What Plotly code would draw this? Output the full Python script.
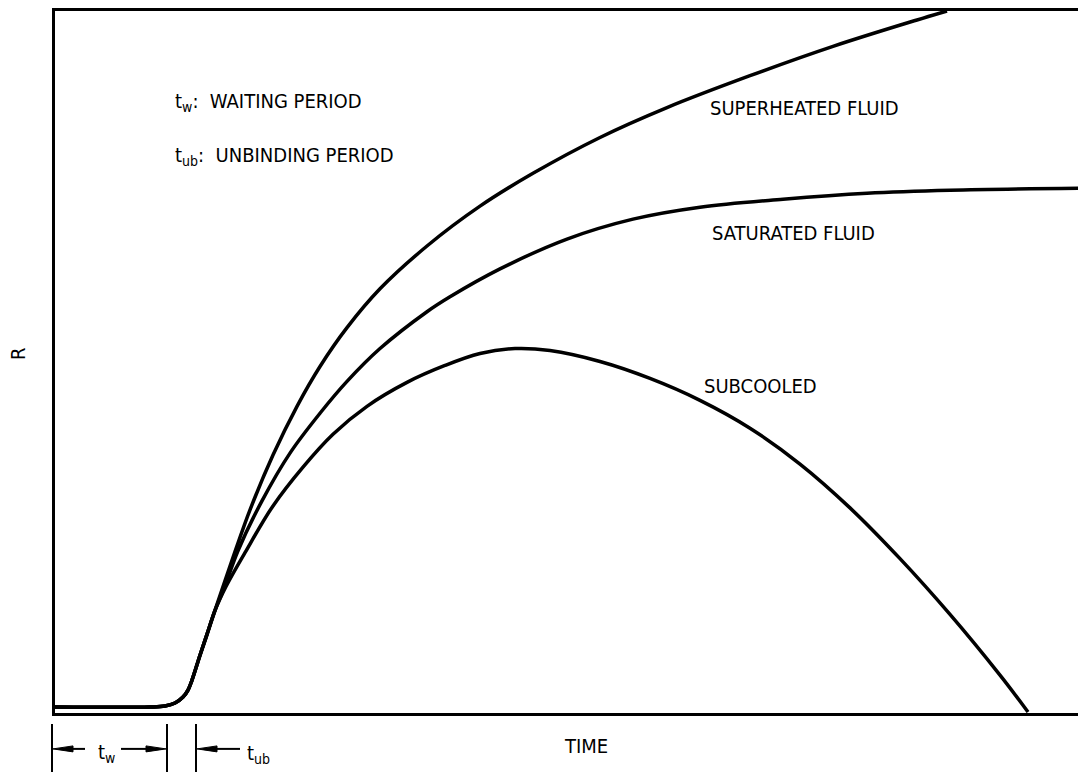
import plotly.graph_objects as go

# ---------------- data (time and R in arbitrary units) ----------------
common_t = [0.0, 9.5, 11.0, 12.0, 12.8, 13.3, 13.7, 14.5, 15.2, 16.0]
common_r = [0.6, 0.6, 0.7, 1.0, 1.6, 2.3, 3.3, 5.8, 7.9, 10.3]

super_t = [16.7, 18.0, 19.5, 21.8, 24.2, 26.5, 29.2, 32.5, 37.2, 42.5, 47.8,
           54.5, 61.2, 69.5, 77.8, 86.2, 89.2]
super_r = [12.4, 16.2, 20.4, 25.9, 30.8, 34.8, 38.7, 42.6, 46.9, 50.9, 54.2,
           57.8, 60.8, 64.0, 66.95, 69.6, 70.5]

sat_t = [16.9, 18.3, 20.7, 23.5, 26.5, 29.2, 32.5, 37.2, 39.5, 44.5, 51.2,
         57.8, 64.5, 72.8, 81.2, 89.5, 103.1]
sat_r = [12.5, 16.3, 21.3, 26.1, 30.1, 33.3, 36.6, 40.3, 41.8, 44.6, 47.6,
         49.6, 50.8, 51.6, 52.2, 52.5, 52.7]

sub_t = [17.1, 19.0, 21.8, 24.8, 27.8, 31.2, 35.2, 39.0, 42.5, 46.0, 49.5,
         54.5, 59.5, 64.5, 69.5, 74.5, 79.5, 84.5, 89.5, 94.5, 97.3]
sub_r = [12.7, 16.1, 20.8, 24.7, 28.0, 30.8, 33.2, 34.9, 36.1, 36.6, 36.4,
         35.3, 33.6, 31.4, 28.6, 25.0, 20.6, 15.5, 9.9, 3.8, 0.1]

series_names = ["SUPERHEATED FLUID", "SATURATED FLUID", "SUBCOOLED"]
series_t = [super_t, sat_t, sub_t]
series_r = [super_r, sat_r, sub_r]

# period markers on the time axis
wait_start_t = -0.3
wait_end_t = 11.2
unbind_t = 14.1

X_RANGE = [0, 103.1]
Y_RANGE = [0, 70.5]

# ---------------- layout geometry ----------------
PAGE_OFF = 8                      # default body margin of the page
W, H = 1078, 764
M_L, M_R, M_T, M_B = 47, 0, 1, 59
PW = W - M_L - M_R
PH = H - M_T - M_B
PLOT_LEFT_PAGE = PAGE_OFF + M_L
PLOT_BOTTOM_PAGE = PAGE_OFF + H - M_B

FONT = "Liberation Sans Narrow, DejaVu Sans Condensed, Arial Narrow, Liberation Sans, sans-serif"
INK = "#000000"
FS = 20


def xpaper(t):
    return (t - X_RANGE[0]) / (X_RANGE[1] - X_RANGE[0])


def dx(pixels):
    return pixels / PW


def xpage(px):
    return (px - PLOT_LEFT_PAGE) / PW


def ypage(py):
    return (PLOT_BOTTOM_PAGE - py) / PH


fig = go.Figure()
for name, t, r in zip(series_names, series_t, series_r):
    fig.add_trace(go.Scatter(
        x=common_t + t, y=common_r + r, mode="lines", name=name,
        line=dict(color=INK, width=3.5, shape="spline", smoothing=1.0),
        showlegend=False, hoverinfo="skip"))

annotations = []
# curve labels
label_pos = {"SUPERHEATED FLUID": (65.3, 60.8),
             "SATURATED FLUID": (65.5, 48.2),
             "SUBCOOLED": (64.7, 32.8)}
for name in series_names:
    lx, ly = label_pos[name]
    annotations.append(dict(x=lx, y=ly, xref="x", yref="y", text=name,
                            showarrow=False, xanchor="left", yanchor="middle",
                            font=dict(family=FONT, size=FS, color=INK)))

# key texts
annotations.append(dict(x=11.8, y=61.4, xref="x", yref="y",
                        text="t<sub>w</sub>:  WAITING PERIOD", showarrow=False,
                        xanchor="left", yanchor="middle",
                        font=dict(family=FONT, size=FS, color=INK)))
annotations.append(dict(x=11.8, y=55.9, xref="x", yref="y",
                        text="t<sub>ub</sub>:  UNBINDING PERIOD", showarrow=False,
                        xanchor="left", yanchor="middle",
                        font=dict(family=FONT, size=FS, color=INK)))

# axis titles
annotations.append(dict(x=xpage(586), y=ypage(746), xref="paper", yref="paper",
                        text="TIME", showarrow=False, xanchor="center",
                        yanchor="middle", font=dict(family=FONT, size=FS, color=INK)))
annotations.append(dict(x=xpage(18), y=ypage(353), xref="paper", yref="paper",
                        text="R", textangle=-90, showarrow=False, xanchor="center",
                        yanchor="middle", font=dict(family=FONT, size=FS, color=INK)))

# period labels under the axis
annotations.append(dict(x=xpaper(wait_start_t) + dx(44), y=ypage(753), xref="paper",
                        yref="paper", text="t<sub>w</sub>", showarrow=False,
                        xanchor="left", yanchor="middle",
                        font=dict(family=FONT, size=FS, color=INK)))
annotations.append(dict(x=xpaper(unbind_t) + dx(49), y=ypage(754), xref="paper",
                        yref="paper", text="t<sub>ub</sub>", showarrow=False,
                        xanchor="left", yanchor="middle",
                        font=dict(family=FONT, size=FS, color=INK)))

shapes = []
bar_top, bar_bot = ypage(724), ypage(775)
for t in (wait_start_t, wait_end_t, unbind_t):
    shapes.append(dict(type="line", xref="paper", yref="paper",
                       x0=xpaper(t), x1=xpaper(t), y0=bar_top, y1=bar_bot,
                       line=dict(color=INK, width=2)))

arrow_y = ypage(749)
head_len, head_half = dx(20), 3.0 / PH


def arrow(head_x, tail_x):
    direction = 1 if tail_x > head_x else -1
    base = head_x + direction * head_len
    shapes.append(dict(type="line", xref="paper", yref="paper",
                       x0=base, x1=tail_x, y0=arrow_y, y1=arrow_y,
                       line=dict(color=INK, width=2)))
    path = (f"M {head_x},{arrow_y} L {base},{arrow_y + head_half} "
            f"L {base},{arrow_y - head_half} Z")
    shapes.append(dict(type="path", xref="paper", yref="paper", path=path,
                       fillcolor=INK, line=dict(color=INK, width=1)))


arrow(xpaper(wait_start_t) + dx(1), xpaper(wait_start_t) + dx(33))
arrow(xpaper(wait_end_t) - dx(1), xpaper(wait_end_t) - dx(46))
arrow(xpaper(unbind_t) + dx(1), xpaper(unbind_t) + dx(44))

fig.update_layout(
    width=W, height=H,
    margin=dict(l=M_L, r=M_R, t=M_T, b=M_B, pad=0),
    paper_bgcolor="white", plot_bgcolor="white",
    showlegend=False,
    xaxis=dict(range=X_RANGE, showgrid=False, zeroline=False, showticklabels=False,
               ticks="", showline=True, linecolor=INK, linewidth=2.5, mirror=True),
    yaxis=dict(range=Y_RANGE, showgrid=False, zeroline=False, showticklabels=False,
               ticks="", showline=True, linecolor=INK, linewidth=2.5),
    annotations=annotations,
    shapes=shapes,
)

fig.write_html("out.html")
